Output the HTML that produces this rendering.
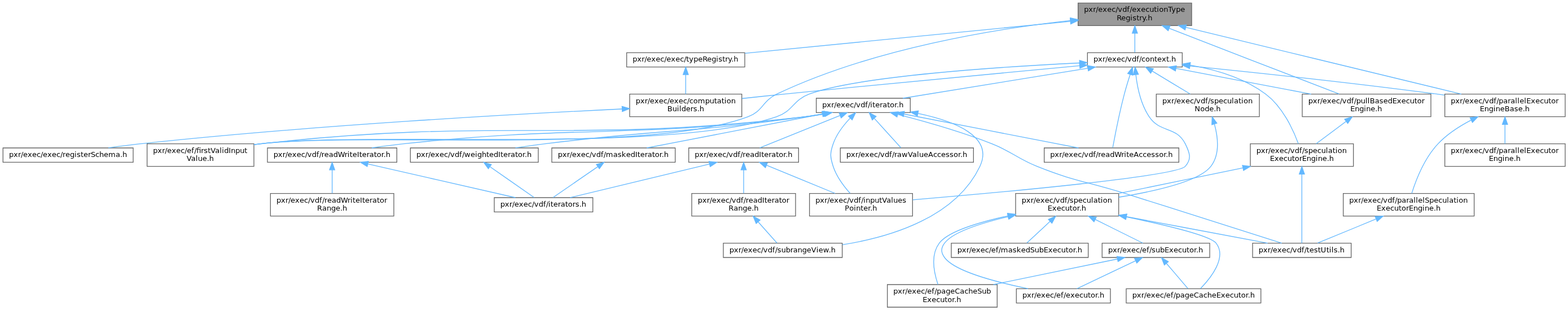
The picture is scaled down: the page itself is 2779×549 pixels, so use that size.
<!DOCTYPE html>
<html lang="en">
<head>
<meta charset="utf-8">
<title>Include dependency graph</title>
<style>
html,body{margin:0;padding:0;background:#fff;}
body{width:2779px;height:549px;overflow:hidden;}
svg{display:block;will-change:transform;}
text{font-family:"DejaVu Sans","Liberation Sans",sans-serif;font-size:9.75px;fill:#000;}
path,polygon{stroke-width:1.0;}

</style>
</head>
<body>
<svg width="2779" height="549" viewBox="0 0 2084.25 411.75">
<g id="graph0" transform="scale(1 1) rotate(0) translate(4 408)">
<g class="n">
<polygon fill="#999999" stroke="#666666" points="1580,-404 1429,-404 1429,-374 1580,-374 1580,-404"/>
<text x="1437 1443 1449 1452.75 1455.75 1461.75 1467.75 1473.75 1479 1482 1488 1494 1497.75 1500.75 1506.75 1512.75 1518.75 1524 1530 1533.75 1536.75 1542.75 1548.75 1553.25 1559.25 1565.25" y="-392.000">pxr/exec/vdf/executionType</text>
<text x="1480.5 1486.5 1492.5 1498.5 1501.5 1506.75 1510.5 1514.25 1518.75 1521.75" y="-381.000">Registry.h</text>
</g>
<g class="n">
<polygon fill="white" stroke="#666666" points="333.5,-217 191.5,-217 191.5,-187 333.5,-187 333.5,-217"/>
<text y="-205.000"><tspan x="199.5 205.5 211.5 215.25 218.25 224.25 230.25 236.25 241.5 244.5 250.5 254.25">pxr/exec/ef/</tspan><tspan x="257.25">fi</tspan><tspan x="263.25 267 272.25 276 282 288 291 294 300 303 309 315 321">rstValidInput</tspan></text>
<text x="244 250 256 259 265 271 274" y="-194.000">Value.h</text>
</g>
<g class="e">
<path fill="none" stroke="#63b8ff" d="M1418.79,-380.77C1320.5,-369.88 1156.45,-343.66 1028.5,-283 1009.06,-273.78 1010.62,-260.62 990.5,-253 855.62,-201.94 485.78,-233.46 342.5,-217 339.56,-216.66 336.56,-216.29 333.54,-215.88"/>
<polygon fill="#63b8ff" stroke="#63b8ff" points="1418.66,-384.27 1428.97,-381.87 1419.41,-377.31 1418.66,-384.27"/>
</g>
<g class="n">
<polygon fill="white" stroke="#666666" points="986,-338 829,-338 829,-319 986,-319 986,-338"/>
<text x="837 843 849 852.75 855.75 861.75 867.75 873.75 879 882 888 894 900 905.25 908.25 912 918 924 930 936 942 948 951 956.25 960 963.75 968.25 971.25" y="-326.000">pxr/exec/exec/typeRegistry.h</text>
</g>
<g class="e">
<path fill="none" stroke="#63b8ff" d="M1418.65,-379.59C1302.88,-368.24 1098.32,-348.2 986.29,-337.22"/>
<polygon fill="#63b8ff" stroke="#63b8ff" points="1418.6,-383.1 1428.89,-380.59 1419.28,-376.13 1418.6,-383.1"/>
</g>
<g class="n">
<polygon fill="white" stroke="#666666" points="1567.5,-338 1441.5,-338 1441.5,-319 1567.5,-319 1567.5,-338"/>
<text x="1449.5 1455.5 1461.5 1465.25 1468.25 1474.25 1480.25 1486.25 1491.5 1494.5 1500.5 1506.5 1510.25 1513.25 1518.5 1524.5 1530.5 1534.25 1540.25 1546.25 1550 1553" y="-326.000">pxr/exec/vdf/context.h</text>
</g>
<g class="e">
<path fill="none" stroke="#63b8ff" d="M1504.5,-363.75C1504.5,-354.72 1504.5,-345.03 1504.5,-338.27"/>
<polygon fill="#63b8ff" stroke="#63b8ff" points="1501,-363.84 1504.5,-373.84 1508,-363.84 1501,-363.84"/>
</g>
<g class="n">
<polygon fill="white" stroke="#666666" points="2076.5,-283 1916.5,-283 1916.5,-253 2076.5,-253 2076.5,-283"/>
<text x="1924.5 1930.5 1936.5 1940.25 1943.25 1949.25 1955.25 1961.25 1966.5 1969.5 1975.5 1981.5 1985.25 1988.25 1994.25 2000.25 2004 2010 2013 2016 2022 2025 2031 2037 2043 2048.25 2054.25 2058 2064" y="-271.000">pxr/exec/vdf/parallelExecutor</text>
<text x="1963 1969 1975 1981 1984 1990 1996 2002.75 2008.75 2014 2020 2023" y="-260.000">EngineBase.h</text>
</g>
<g class="e">
<path fill="none" stroke="#63b8ff" d="M1572.11,-371.65C1669.3,-348.14 1846.87,-305.19 1938.45,-283.04"/>
<polygon fill="#63b8ff" stroke="#63b8ff" points="1571.28,-368.25 1562.39,-374 1572.93,-375.05 1571.28,-368.25"/>
</g>
<g class="n">
<polygon fill="white" stroke="#666666" points="1898,-283 1727,-283 1727,-253 1898,-253 1898,-283"/>
<text x="1735 1741 1747 1750.75 1753.75 1759.75 1765.75 1771.75 1777 1780 1786 1792 1795.75 1798.75 1804.75 1810.75 1813.75 1816.75 1823.5 1829.5 1834.75 1840.75 1846.75 1852.75 1858.75 1864.75 1870 1876 1879.75 1885.75" y="-271.000">pxr/exec/vdf/pullBasedExecutor</text>
<text x="1791 1797 1803 1809 1812 1818 1824 1827" y="-260.000">Engine.h</text>
</g>
<g class="e">
<path fill="none" stroke="#63b8ff" d="M1550.18,-370.35C1611.59,-346.62 1719.56,-304.91 1775.92,-283.13"/>
<polygon fill="#63b8ff" stroke="#63b8ff" points="1548.8,-367.13 1540.74,-374 1551.33,-373.66 1548.8,-367.13"/>
</g>
<g class="n">
<polygon fill="white" stroke="#666666" points="982,-283 833,-283 833,-253 982,-253 982,-283"/>
<text x="841 847 853 856.75 859.75 865.75 871.75 877.75 883 886 892 898 904 909.25 912.25 917.5 923.5 933.25 939.25 945.25 949 955 958.75 961.75 967.75" y="-271.000">pxr/exec/exec/computation</text>
<text x="883 889.75 895.75 898.75 901.75 907.75 913.75 917.5 922.75 925.75" y="-260.000">Builders.h</text>
</g>
<g class="e">
<path fill="none" stroke="#63b8ff" d="M907.5,-308.65C907.5,-300.36 907.5,-290.78 907.5,-283.11"/>
<polygon fill="#63b8ff" stroke="#63b8ff" points="904,-308.87 907.5,-318.87 911,-308.87 904,-308.87"/>
</g>
<g class="n">
<polygon fill="white" stroke="#666666" points="173,-211.5 0,-211.5 0,-192.5 173,-192.5 173,-211.5"/>
<text x="8 14 20 23.75 26.75 32.75 38.75 44.75 50 53 59 65 71 76.25 79.25 83 89 95 98 103.25 107 113 116.75 122.75 128 134 140 149.75 155.75 158.75" y="-199.500">pxr/exec/exec/registerSchema.h</text>
</g>
<g class="e">
<path fill="none" stroke="#63b8ff" d="M822.66,-263.24C687.11,-256.77 413.42,-241.76 182.5,-217 168.68,-215.52 153.8,-213.54 139.98,-211.53"/>
<polygon fill="#63b8ff" stroke="#63b8ff" points="822.82,-266.75 832.97,-263.73 823.15,-259.76 822.82,-266.75"/>
</g>
<g class="e">
<path fill="none" stroke="#63b8ff" d="M1430.82,-324.39C1324.95,-319.17 1135.51,-306.79 1071.5,-283 1049.66,-274.88 1050.54,-260.57 1028.5,-253 884.12,-203.42 494.18,-234.19 342.5,-217 339.56,-216.67 336.56,-216.29 333.54,-215.89"/>
<polygon fill="#63b8ff" stroke="#63b8ff" points="1430.95,-327.9 1441.11,-324.89 1431.29,-320.91 1430.95,-327.9"/>
</g>
<g class="e">
<path fill="none" stroke="#63b8ff" d="M1431.14,-320.75C1339.31,-312.25 1177.23,-297.04 1038.5,-283 1020.29,-281.16 1000.68,-279.1 982.3,-277.14"/>
<polygon fill="#63b8ff" stroke="#63b8ff" points="1430.88,-324.24 1441.16,-321.68 1431.53,-317.27 1430.88,-324.24"/>
</g>
<g class="n">
<polygon fill="white" stroke="#666666" points="1209,-151 1072,-151 1072,-121 1209,-121 1209,-151"/>
<text x="1080 1086 1092 1095.75 1098.75 1104.75 1110.75 1116.75 1122 1125 1131 1137 1140.75 1143.75 1146.75 1152.75 1158.75 1164.75 1168.5 1174.5 1180.5 1183.5 1189.5 1195.5" y="-139.000">pxr/exec/vdf/inputValues</text>
<text x="1119 1125 1131 1134 1140 1143.75 1149.75 1152.75 1155.75" y="-128.000">Pointer.h</text>
</g>
<g class="e">
<path fill="none" stroke="#63b8ff" d="M1505.81,-308.73C1507.69,-292.76 1512.29,-269.8 1523.5,-253 1538.3,-230.82 1559.57,-240.85 1571.5,-217 1577.46,-205.07 1580.37,-196.96 1571.5,-187 1559.6,-173.64 1327.95,-152.57 1209.3,-142.59"/>
<polygon fill="#63b8ff" stroke="#63b8ff" points="1502.3,-308.66 1504.86,-318.94 1509.27,-309.31 1502.3,-308.66"/>
</g>
<g class="n">
<polygon fill="white" stroke="#666666" points="1206,-277.5 1081,-277.5 1081,-258.5 1206,-258.5 1206,-277.5"/>
<text x="1089 1095 1101 1104.75 1107.75 1113.75 1119.75 1125.75 1131 1134 1140 1146 1149.75 1152.75 1155.75 1159.5 1165.5 1169.25 1175.25 1179 1185 1188 1191" y="-265.500">pxr/exec/vdf/iterator.h</text>
</g>
<g class="e">
<path fill="none" stroke="#63b8ff" d="M1442.06,-317.38C1372.52,-306.11 1261.32,-288.09 1196.06,-277.52"/>
<polygon fill="#63b8ff" stroke="#63b8ff" points="1441.58,-320.85 1452.01,-318.99 1442.7,-313.94 1441.58,-320.85"/>
</g>
<g class="n">
<polygon fill="white" stroke="#666666" points="1563,-211.5 1384,-211.5 1384,-192.5 1563,-192.5 1563,-211.5"/>
<text x="1392 1398 1404 1407.75 1410.75 1416.75 1422.75 1428.75 1434 1437 1443 1449 1452.75 1455.75 1459.5 1465.5 1471.5 1477.5 1486.5 1490.25 1493.25 1497 1503 1509.75 1515 1520.25 1526.25 1531.5 1536.75 1542.75 1545.75 1548.75" y="-199.500">pxr/exec/vdf/readWriteAccessor.h</text>
</g>
<g class="e">
<path fill="none" stroke="#63b8ff" d="M1498.24,-308.99C1495.67,-301.04 1492.77,-291.62 1490.5,-283 1483.78,-257.46 1477.85,-226.8 1475.11,-211.94"/>
<polygon fill="#63b8ff" stroke="#63b8ff" points="1494.99,-310.31 1501.46,-318.71 1501.64,-308.11 1494.99,-310.31"/>
</g>
<g class="e">
<path fill="none" stroke="#63b8ff" d="M1577.67,-320.38C1658.33,-312.3 1791.86,-298.25 1906.5,-283 1909.63,-282.58 1912.83,-282.15 1916.05,-281.69"/>
<polygon fill="#63b8ff" stroke="#63b8ff" points="1577.22,-316.91 1567.62,-321.38 1577.92,-323.87 1577.22,-316.91"/>
</g>
<g class="e">
<path fill="none" stroke="#63b8ff" d="M1559.26,-317.1C1609.25,-307.6 1683.55,-293.49 1738.75,-283.01"/>
<polygon fill="#63b8ff" stroke="#63b8ff" points="1558.46,-313.69 1549.29,-318.99 1559.76,-320.57 1558.46,-313.69"/>
</g>
<g class="n">
<polygon fill="white" stroke="#666666" points="1795,-217 1658,-217 1658,-187 1795,-187 1795,-217"/>
<text x="1666 1672 1678 1681.75 1684.75 1690.75 1696.75 1702.75 1708 1711 1717 1723 1726.75 1729.75 1735 1741 1747 1752.25 1758.25 1761.25 1767.25 1771 1774 1780" y="-205.000">pxr/exec/vdf/speculation</text>
<text x="1684 1690 1696 1702 1707.25 1713.25 1717 1723 1726.75 1732.75 1738.75 1744.75 1747.75 1753.75 1759.75 1762.75" y="-194.000">ExecutorEngine.h</text>
</g>
<g class="e">
<path fill="none" stroke="#63b8ff" d="M1578.07,-321.45C1611.35,-315.69 1649.61,-304.53 1678.5,-283 1701.1,-266.16 1715.15,-235.25 1721.84,-217.18"/>
<polygon fill="#63b8ff" stroke="#63b8ff" points="1577.24,-318.04 1567.91,-323.07 1578.34,-324.95 1577.24,-318.04"/>
</g>
<g class="n">
<polygon fill="white" stroke="#666666" points="1670,-283 1533,-283 1533,-253 1670,-253 1670,-283"/>
<text x="1541 1547 1553 1556.75 1559.75 1565.75 1571.75 1577.75 1583 1586 1592 1598 1601.75 1604.75 1610 1616 1622 1627.25 1633.25 1636.25 1642.25 1646 1649 1655" y="-271.000">pxr/exec/vdf/speculation</text>
<text x="1584 1591.5 1597.5 1603.5 1609.5 1612.5" y="-260.000">Node.h</text>
</g>
<g class="e">
<path fill="none" stroke="#63b8ff" d="M1527.62,-313.55C1542.88,-304.36 1562.79,-292.35 1578.1,-283.11"/>
<polygon fill="#63b8ff" stroke="#63b8ff" points="1525.57,-310.71 1518.81,-318.87 1529.18,-316.7 1525.57,-310.71"/>
</g>
<g class="e">
<path fill="none" stroke="#63b8ff" d="M1092.2,-256.71C1083.65,-255.28 1074.84,-253.96 1066.5,-253 746.44,-216.11 662.68,-252.84 342.5,-217 339.56,-216.67 336.56,-216.3 333.53,-215.9"/>
<polygon fill="#63b8ff" stroke="#63b8ff" points="1091.63,-260.17 1102.09,-258.45 1092.84,-253.27 1091.63,-260.17"/>
</g>
<g class="e">
<path fill="none" stroke="#63b8ff" d="M1126.15,-251.15C1117.55,-242.1 1108.05,-229.98 1103.5,-217 1099.09,-204.42 1099.32,-199.66 1103.5,-187 1107.96,-173.46 1117.66,-160.59 1126.01,-151.3"/>
<polygon fill="#63b8ff" stroke="#63b8ff" points="1123.76,-253.71 1133.33,-258.26 1128.69,-248.74 1123.76,-253.71"/>
</g>
<g class="n">
<polygon fill="white" stroke="#666666" points="893.5,-211.5 729.5,-211.5 729.5,-192.5 893.5,-192.5 893.5,-211.5"/>
<text x="737.5 743.5 749.5 753.25 756.25 762.25 768.25 774.25 779.5 782.5 788.5 794.5 798.25 801.25 811 817 822.25 828.25 834.25 840.25 843.25 847 853 856.75 862.75 866.5 872.5 875.5 878.5" y="-199.500">pxr/exec/vdf/maskedIterator.h</text>
</g>
<g class="e">
<path fill="none" stroke="#63b8ff" d="M1088.98,-256.49C1023.78,-243.92 915.91,-223.13 855.67,-211.51"/>
<polygon fill="#63b8ff" stroke="#63b8ff" points="1088.59,-259.98 1099.07,-258.44 1089.91,-253.11 1088.59,-259.98"/>
</g>
<g class="n">
<polygon fill="white" stroke="#666666" points="1290,-211.5 1113,-211.5 1113,-192.5 1290,-192.5 1290,-211.5"/>
<text x="1121 1127 1133 1136.75 1139.75 1145.75 1151.75 1157.75 1163 1166 1172 1178 1181.75 1184.75 1188.5 1194.5 1202.75 1208.75 1214.75 1217.75 1223.75 1229.75 1236.5 1241.75 1247 1253 1258.25 1263.5 1269.5 1272.5 1275.5" y="-199.500">pxr/exec/vdf/rawValueAccessor.h</text>
</g>
<g class="e">
<path fill="none" stroke="#63b8ff" d="M1158.34,-250.62C1169.5,-238.31 1184.38,-221.89 1193.43,-211.91"/>
<polygon fill="#63b8ff" stroke="#63b8ff" points="1155.44,-248.61 1151.32,-258.37 1160.63,-253.31 1155.44,-248.61"/>
</g>
<g class="n">
<polygon fill="white" stroke="#666666" points="1057.5,-211.5 911.5,-211.5 911.5,-192.5 1057.5,-192.5 1057.5,-211.5"/>
<text x="919.5 925.5 931.5 935.25 938.25 944.25 950.25 956.25 961.5 964.5 970.5 976.5 980.25 983.25 987 993 999 1005 1008 1011.75 1017.75 1021.5 1027.5 1031.25 1037.25 1040.25 1043.25" y="-199.500">pxr/exec/vdf/readIterator.h</text>
</g>
<g class="e">
<path fill="none" stroke="#63b8ff" d="M1112.47,-254.51C1081.05,-241.86 1033.27,-222.63 1005.86,-211.6"/>
<polygon fill="#63b8ff" stroke="#63b8ff" points="1111.47,-257.88 1122.06,-258.37 1114.09,-251.39 1111.47,-257.88"/>
</g>
<g class="n">
<polygon fill="white" stroke="#666666" points="1115.5,-85 957.5,-85 957.5,-66 1115.5,-66 1115.5,-85"/>
<text x="965.5 971.5 977.5 981.25 984.25 990.25 996.25 1002.25 1007.5 1010.5 1016.5 1022.5 1026.25 1029.25 1034.5 1040.5 1046.5 1050.25 1056.25 1062.25 1068.25 1074.25 1081 1084 1090 1097.5 1100.5" y="-73.000">pxr/exec/vdf/subrangeView.h</text>
</g>
<g class="e">
<path fill="none" stroke="#63b8ff" d="M1216.27,-257.29C1265.11,-247.06 1317.34,-226.66 1298.5,-187 1266.4,-119.45 1180.54,-93.15 1115.78,-82.94"/>
<polygon fill="#63b8ff" stroke="#63b8ff" points="1215.38,-253.9 1206.25,-259.27 1216.74,-260.77 1215.38,-253.9"/>
</g>
<g class="e">
<path fill="none" stroke="#63b8ff" d="M1197.69,-256.49C1262.5,-243.92 1369.72,-223.13 1429.6,-211.51"/>
<polygon fill="#63b8ff" stroke="#63b8ff" points="1196.81,-253.1 1187.66,-258.44 1198.15,-259.97 1196.81,-253.1"/>
</g>
<g class="n">
<polygon fill="white" stroke="#666666" points="523.5,-211.5 351.5,-211.5 351.5,-192.5 523.5,-192.5 523.5,-211.5"/>
<text x="359.5 365.5 371.5 375.25 378.25 384.25 390.25 396.25 401.5 404.5 410.5 416.5 420.25 423.25 427 433 439 445 454 457.75 460.75 464.5 470.5 473.5 477.25 483.25 487 493 496.75 502.75 505.75 508.75" y="-199.500">pxr/exec/vdf/readWriteIterator.h</text>
</g>
<g class="e">
<path fill="none" stroke="#63b8ff" d="M1091.32,-256.69C1083.04,-255.3 1074.55,-254 1066.5,-253 830.44,-223.68 769.02,-242.36 532.5,-217 518.74,-215.52 503.92,-213.53 490.17,-211.52"/>
<polygon fill="#63b8ff" stroke="#63b8ff" points="1090.81,-260.16 1101.27,-258.44 1092.02,-253.26 1090.81,-260.16"/>
</g>
<g class="n">
<polygon fill="white" stroke="#666666" points="1792,-85 1661,-85 1661,-66 1792,-66 1792,-85"/>
<text x="1669 1675 1681 1684.75 1687.75 1693.75 1699.75 1705.75 1711 1714 1720 1726 1729.75 1732.75 1736.5 1742.5 1747.75 1751.5 1759 1762.75 1765.75 1768.75 1774 1777" y="-73.000">pxr/exec/vdf/testUtils.h</text>
</g>
<g class="e">
<path fill="none" stroke="#63b8ff" d="M1189.39,-255.97C1224.25,-247.02 1273.1,-233.25 1314.5,-217 1342.25,-206.11 1346.82,-198.09 1374.5,-187 1425,-166.77 1439.57,-167.22 1491.5,-151 1567.08,-127.39 1656.15,-99 1699.74,-85.07"/>
<polygon fill="#63b8ff" stroke="#63b8ff" points="1188.33,-252.63 1179.49,-258.48 1190.05,-259.42 1188.33,-252.63"/>
</g>
<g class="n">
<polygon fill="white" stroke="#666666" points="711.5,-211.5 541.5,-211.5 541.5,-192.5 711.5,-192.5 711.5,-211.5"/>
<text x="549.5 555.5 561.5 565.25 568.25 574.25 580.25 586.25 591.5 594.5 600.5 606.5 610.25 613.25 621.5 627.5 630.5 636.5 642.5 646.25 652.25 658.25 661.25 665 671 674.75 680.75 684.5 690.5 693.5 696.5" y="-199.500">pxr/exec/vdf/weightedIterator.h</text>
</g>
<g class="e">
<path fill="none" stroke="#63b8ff" d="M1090.13,-256.75C1082.22,-255.39 1074.16,-254.09 1066.5,-253 913.44,-231.16 873.89,-236.39 720.5,-217 707.73,-215.39 694.02,-213.46 681.12,-211.55"/>
<polygon fill="#63b8ff" stroke="#63b8ff" points="1089.57,-260.21 1100.02,-258.5 1090.78,-253.31 1089.57,-260.21"/>
</g>
<g class="n">
<polygon fill="white" stroke="#666666" points="784,-145.5 653,-145.5 653,-126.5 784,-126.5 784,-145.5"/>
<text x="661 667 673 676.75 679.75 685.75 691.75 697.75 703 706 712 718 721.75 724.75 727.75 731.5 737.5 741.25 747.25 751 757 760.75 766 769" y="-133.500">pxr/exec/vdf/iterators.h</text>
</g>
<g class="e">
<path fill="none" stroke="#63b8ff" d="M790.69,-186.68C772.42,-174.11 746.44,-156.23 731.14,-145.7"/>
<polygon fill="#63b8ff" stroke="#63b8ff" points="788.74,-189.58 798.96,-192.37 792.7,-183.82 788.74,-189.58"/>
</g>
<g class="e">
<path fill="none" stroke="#63b8ff" d="M1014.96,-188.5C1041.13,-177.77 1078.84,-162.3 1106.09,-151.12"/>
<polygon fill="#63b8ff" stroke="#63b8ff" points="1013.46,-185.33 1005.54,-192.37 1016.12,-191.81 1013.46,-185.33"/>
</g>
<g class="e">
<path fill="none" stroke="#63b8ff" d="M938.87,-190.02C886.45,-177.41 801.56,-156.98 753.89,-145.51"/>
<polygon fill="#63b8ff" stroke="#63b8ff" points="938.36,-193.5 948.9,-192.44 940,-186.69 938.36,-193.5"/>
</g>
<g class="n">
<polygon fill="white" stroke="#666666" points="1053.5,-151 915.5,-151 915.5,-121 1053.5,-121 1053.5,-151"/>
<text x="923.5 929.5 935.5 939.25 942.25 948.25 954.25 960.25 965.5 968.5 974.5 980.5 984.25 987.25 991 997 1003 1009 1012 1015.75 1021.75 1025.5 1031.5 1035.25 1041.25" y="-139.000">pxr/exec/vdf/readIterator</text>
<text x="964.5 971.25 977.25 983.25 989.25 995.25 998.25" y="-128.000">Range.h</text>
</g>
<g class="e">
<path fill="none" stroke="#63b8ff" d="M984.5,-182.35C984.5,-172.47 984.5,-160.51 984.5,-151.36"/>
<polygon fill="#63b8ff" stroke="#63b8ff" points="981,-182.37 984.5,-192.37 988,-182.37 981,-182.37"/>
</g>
<g class="e">
<path fill="none" stroke="#63b8ff" d="M1003.98,-113.09C1012.57,-103.42 1022.18,-92.61 1028.71,-85.27"/>
<polygon fill="#63b8ff" stroke="#63b8ff" points="1001.12,-111.04 997.09,-120.84 1006.35,-115.69 1001.12,-111.04"/>
</g>
<g class="e">
<path fill="none" stroke="#63b8ff" d="M485.01,-190.18C540.33,-177.58 630.55,-157.03 681.12,-145.51"/>
<polygon fill="#63b8ff" stroke="#63b8ff" points="484.08,-186.8 475.11,-192.44 485.63,-193.63 484.08,-186.8"/>
</g>
<g class="n">
<polygon fill="white" stroke="#666666" points="519.5,-151 355.5,-151 355.5,-121 519.5,-121 519.5,-151"/>
<text x="363.5 369.5 375.5 379.25 382.25 388.25 394.25 400.25 405.5 408.5 414.5 420.5 424.25 427.25 431 437 443 449 458 461.75 464.75 468.5 474.5 477.5 481.25 487.25 491 497 500.75 506.75" y="-139.000">pxr/exec/vdf/readWriteIterator</text>
<text x="417.5 424.25 430.25 436.25 442.25 448.25 451.25" y="-128.000">Range.h</text>
</g>
<g class="e">
<path fill="none" stroke="#63b8ff" d="M437.5,-182.35C437.5,-172.47 437.5,-160.51 437.5,-151.36"/>
<polygon fill="#63b8ff" stroke="#63b8ff" points="434,-182.37 437.5,-192.37 441,-182.37 434,-182.37"/>
</g>
<g class="e">
<path fill="none" stroke="#63b8ff" d="M647.58,-186.33C665.63,-173.78 691,-156.13 706,-145.7"/>
<polygon fill="#63b8ff" stroke="#63b8ff" points="645.12,-183.78 638.91,-192.37 649.12,-189.53 645.12,-183.78"/>
</g>
<g class="n">
<polygon fill="white" stroke="#666666" points="2076.5,-217 1916.5,-217 1916.5,-187 2076.5,-187 2076.5,-217"/>
<text x="1924.5 1930.5 1936.5 1940.25 1943.25 1949.25 1955.25 1961.25 1966.5 1969.5 1975.5 1981.5 1985.25 1988.25 1994.25 2000.25 2004 2010 2013 2016 2022 2025 2031 2037 2043 2048.25 2054.25 2058 2064" y="-205.000">pxr/exec/vdf/parallelExecutor</text>
<text x="1975 1981 1987 1993 1996 2002 2008 2011" y="-194.000">Engine.h</text>
</g>
<g class="e">
<path fill="none" stroke="#63b8ff" d="M1996.5,-242.54C1996.5,-233.96 1996.5,-224.61 1996.5,-217.16"/>
<polygon fill="#63b8ff" stroke="#63b8ff" points="1993,-242.8 1996.5,-252.8 2000,-242.8 1993,-242.8"/>
</g>
<g class="n">
<polygon fill="white" stroke="#666666" points="1955.5,-151 1781.5,-151 1781.5,-121 1955.5,-121 1955.5,-151"/>
<text x="1789.5 1795.5 1801.5 1805.25 1808.25 1814.25 1820.25 1826.25 1831.5 1834.5 1840.5 1846.5 1850.25 1853.25 1859.25 1865.25 1869 1875 1878 1881 1887 1890 1896 1902 1908 1913.25 1919.25 1922.25 1928.25 1932 1935 1941" y="-139.000">pxr/exec/vdf/parallelSpeculation</text>
<text x="1826 1832 1838 1844 1849.25 1855.25 1859 1865 1868.75 1874.75 1880.75 1886.75 1889.75 1895.75 1901.75 1904.75" y="-128.000">ExecutorEngine.h</text>
</g>
<g class="e">
<path fill="none" stroke="#63b8ff" d="M1951.27,-248.34C1935.97,-240.38 1919.69,-229.92 1907.5,-217 1889.37,-197.78 1878.06,-168.54 1872.55,-151.25"/>
<polygon fill="#63b8ff" stroke="#63b8ff" points="1950.11,-251.67 1960.63,-252.96 1953.22,-245.39 1950.11,-251.67"/>
</g>
<g class="e">
<path fill="none" stroke="#63b8ff" d="M1824.94,-117.05C1799.2,-106.45 1767.78,-93.51 1747.47,-85.14"/>
<polygon fill="#63b8ff" stroke="#63b8ff" points="1823.91,-120.41 1834.49,-120.99 1826.57,-113.94 1823.91,-120.41"/>
</g>
<g class="e">
<path fill="none" stroke="#63b8ff" d="M1785.29,-246.75C1772.36,-237.13 1757.21,-225.86 1745.53,-217.16"/>
<polygon fill="#63b8ff" stroke="#63b8ff" points="1783.3,-249.63 1793.41,-252.8 1787.48,-244.02 1783.3,-249.63"/>
</g>
<g class="e">
<path fill="none" stroke="#63b8ff" d="M1726.5,-176.48C1726.5,-148.34 1726.5,-103.67 1726.5,-85.07"/>
<polygon fill="#63b8ff" stroke="#63b8ff" points="1723,-176.72 1726.5,-186.72 1730,-176.72 1723,-176.72"/>
</g>
<g class="n">
<polygon fill="white" stroke="#666666" points="1483,-151 1346,-151 1346,-121 1483,-121 1483,-151"/>
<text x="1354 1360 1366 1369.75 1372.75 1378.75 1384.75 1390.75 1396 1399 1405 1411 1414.75 1417.75 1423 1429 1435 1440.25 1446.25 1449.25 1455.25 1459 1462 1468" y="-139.000">pxr/exec/vdf/speculation</text>
<text x="1388.5 1394.5 1400.5 1406.5 1411.75 1417.75 1421.5 1427.5 1430.5 1433.5" y="-128.000">Executor.h</text>
</g>
<g class="e">
<path fill="none" stroke="#63b8ff" d="M1648.06,-184.91C1597.18,-174.47 1531.54,-161.01 1482.81,-151.01"/>
<polygon fill="#63b8ff" stroke="#63b8ff" points="1647.53,-188.37 1658.03,-186.95 1648.94,-181.52 1647.53,-188.37"/>
</g>
<g class="e">
<path fill="none" stroke="#63b8ff" d="M1493.44,-120.2C1552.73,-109.08 1631.85,-94.25 1680.97,-85.04"/>
<polygon fill="#63b8ff" stroke="#63b8ff" points="1492.54,-116.81 1483.36,-122.09 1493.83,-123.69 1492.54,-116.81"/>
</g>
<g class="n">
<polygon fill="white" stroke="#666666" points="1472,-24.5 1347,-24.5 1347,-5.5 1472,-5.5 1472,-24.5"/>
<text x="1355 1361 1367 1370.75 1373.75 1379.75 1385.75 1391.75 1397 1400 1406 1409.75 1412.75 1418.75 1424.75 1430.75 1436 1442 1445.75 1451.75 1454.75 1457.75" y="-12.500">pxr/exec/ef/executor.h</text>
</g>
<g class="e">
<path fill="none" stroke="#63b8ff" d="M1335.71,-120.09C1299.49,-111.47 1262.2,-99.47 1251.5,-85 1246.48,-78.21 1246.51,-72.81 1251.5,-66 1264.8,-47.84 1320.89,-33.2 1362.48,-24.56"/>
<polygon fill="#63b8ff" stroke="#63b8ff" points="1335.35,-123.59 1345.88,-122.43 1336.92,-116.77 1335.35,-123.59"/>
</g>
<g class="n">
<polygon fill="white" stroke="#666666" points="1442.5,-85 1260.5,-85 1260.5,-66 1442.5,-66 1442.5,-85"/>
<text x="1268.5 1274.5 1280.5 1284.25 1287.25 1293.25 1299.25 1305.25 1310.5 1313.5 1319.5 1323.25 1326.25 1336 1342 1347.25 1353.25 1359.25 1365.25 1371.25 1377.25 1383.25 1389.25 1395.25 1401.25 1406.5 1412.5 1416.25 1422.25 1425.25 1428.25" y="-73.000">pxr/exec/ef/maskedSubExecutor.h</text>
</g>
<g class="e">
<path fill="none" stroke="#63b8ff" d="M1391.84,-113.96C1381.2,-104.07 1369.09,-92.83 1360.94,-85.27"/>
<polygon fill="#63b8ff" stroke="#63b8ff" points="1389.54,-116.6 1399.25,-120.84 1394.3,-111.47 1389.54,-116.6"/>
</g>
<g class="n">
<polygon fill="white" stroke="#666666" points="1672,-24.5 1493,-24.5 1493,-5.5 1672,-5.5 1672,-24.5"/>
<text x="1501 1507 1513 1516.75 1519.75 1525.75 1531.75 1537.75 1543 1546 1552 1555.75 1558.75 1564.75 1570.75 1576.75 1582.75 1589.5 1595.5 1600.75 1606.75 1612.75 1618.75 1624.75 1630.75 1636 1642 1645.75 1651.75 1654.75 1657.75" y="-12.500">pxr/exec/ef/pageCacheExecutor.h</text>
</g>
<g class="e">
<path fill="none" stroke="#63b8ff" d="M1493.14,-119.91C1545.01,-109.15 1604.79,-94.9 1612.5,-85 1627.27,-66.04 1605.31,-38.69 1591.79,-24.8"/>
<polygon fill="#63b8ff" stroke="#63b8ff" points="1492.31,-116.5 1483.22,-121.94 1493.72,-123.36 1492.31,-116.5"/>
</g>
<g class="n">
<polygon fill="white" stroke="#666666" points="1321.5,-30 1175.5,-30 1175.5,0 1321.5,0 1321.5,-30"/>
<text x="1183.5 1189.5 1195.5 1199.25 1202.25 1208.25 1214.25 1220.25 1225.5 1228.5 1234.5 1238.25 1241.25 1247.25 1253.25 1259.25 1265.25 1272 1278 1283.25 1289.25 1295.25 1301.25 1307.25" y="-18.000">pxr/exec/ef/pageCacheSub</text>
<text x="1222.5 1228.5 1234.5 1240.5 1245.75 1251.75 1255.5 1261.5 1264.5 1267.5" y="-7.000">Executor.h</text>
</g>
<g class="e">
<path fill="none" stroke="#63b8ff" d="M1335.91,-121.29C1297.07,-112.75 1256.05,-100.44 1244.5,-85 1232.71,-69.24 1237.67,-45.36 1242.75,-30.22"/>
<polygon fill="#63b8ff" stroke="#63b8ff" points="1335.21,-124.72 1345.72,-123.38 1336.67,-117.87 1335.21,-124.72"/>
</g>
<g class="n">
<polygon fill="white" stroke="#666666" points="1604,-85 1461,-85 1461,-66 1604,-66 1604,-85"/>
<text x="1469 1475 1481 1484.75 1487.75 1493.75 1499.75 1505.75 1511 1514 1520 1523.75 1526.75 1532 1538 1544 1550 1556 1562 1567.25 1573.25 1577 1583 1586 1589" y="-73.000">pxr/exec/ef/subExecutor.h</text>
</g>
<g class="e">
<path fill="none" stroke="#63b8ff" d="M1451.83,-116.49C1473,-106 1498.49,-93.36 1515.07,-85.14"/>
<polygon fill="#63b8ff" stroke="#63b8ff" points="1450.17,-113.41 1442.76,-120.99 1453.28,-119.68 1450.17,-113.41"/>
</g>
<g class="e">
<path fill="none" stroke="#63b8ff" d="M1505.45,-61.63C1481.72,-50.35 1447.91,-34.27 1427.41,-24.52"/>
<polygon fill="#63b8ff" stroke="#63b8ff" points="1504.08,-64.86 1514.61,-65.99 1507.09,-58.54 1504.08,-64.86"/>
</g>
<g class="e">
<path fill="none" stroke="#63b8ff" d="M1546.64,-57.95C1555.9,-47.12 1567.62,-33.41 1575.09,-24.67"/>
<polygon fill="#63b8ff" stroke="#63b8ff" points="1543.71,-55.99 1539.88,-65.87 1549.04,-60.54 1543.71,-55.99"/>
</g>
<g class="e">
<path fill="none" stroke="#63b8ff" d="M1481.14,-63.92C1435.06,-54.43 1367.09,-40.43 1316.5,-30.01"/>
<polygon fill="#63b8ff" stroke="#63b8ff" points="1480.7,-67.4 1491.2,-65.99 1482.12,-60.55 1480.7,-67.4"/>
</g>
<g class="e">
<path fill="none" stroke="#63b8ff" d="M1610.31,-243C1615,-225.68 1617.6,-202.68 1605.5,-187 1590.37,-167.4 1531.46,-153.99 1483.02,-146.04"/>
<polygon fill="#63b8ff" stroke="#63b8ff" points="1606.85,-242.34 1607.23,-252.93 1613.53,-244.41 1606.85,-242.34"/>
</g>
</g>
</svg>
</body>
</html>
